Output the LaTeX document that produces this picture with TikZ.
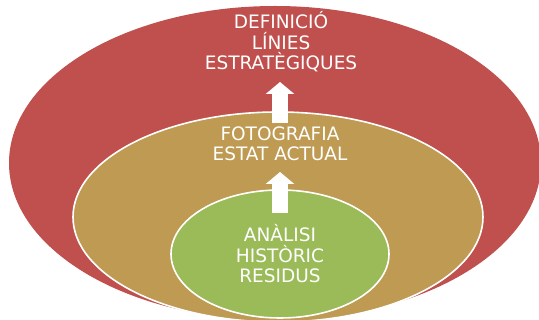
\documentclass[tikz,border=0pt]{standalone}
\usepackage{fontspec}
\setmainfont{DejaVu Sans}
\usetikzlibrary{arrows.meta,shapes.geometric}
\definecolor{ringred}{HTML}{C0504D}
\definecolor{ringtan}{HTML}{BE9A53}
\definecolor{ringgreen}{HTML}{9BBB59}
\tikzset{
  ring/.style={ellipse, draw=white, line width=1.6pt, inner sep=0pt},
  lbl/.style={text=white, align=center, inner sep=0pt, anchor=base,
    font=\fontsize{18.5}{20.7}\selectfont},
  bigarrow/.style={draw=white, line width=16pt,
    -{Triangle[width=28pt,length=12pt]}}
}
\begin{document}
\begin{tikzpicture}[x=1pt,y=-1pt]
\useasboundingbox (0,0) rectangle (539,320);
\node[ring, fill=ringred, draw=none, minimum width=532pt, minimum height=314pt] (outer) at (275,163) {};
\node[ring, fill=ringtan, minimum width=410pt, minimum height=210pt] (middle) at (278,217) {};
\node[ring, fill=ringgreen, minimum width=218pt, minimum height=128pt] (inner) at (280,254) {};
\node[lbl] (t1) at (281,70) {DEFINICIÓ\\LÍNIES\\ESTRATÈGIQUES};
\node[lbl] (t2) at (280,161) {FOTOGRAFIA\\ESTAT ACTUAL};
\node[lbl] (t3) at (280,283) {ANÀLISI\\HISTÒRIC\\RESIDUS};
\coordinate (a1s) at (280,123);
\coordinate (a1e) at (280,82);
\coordinate (a2s) at (280,213);
\coordinate (a2e) at (280,172);
\draw[bigarrow] (a1s) -- (a1e);
\draw[bigarrow] (a2s) -- (a2e);
\end{tikzpicture}
\end{document}
